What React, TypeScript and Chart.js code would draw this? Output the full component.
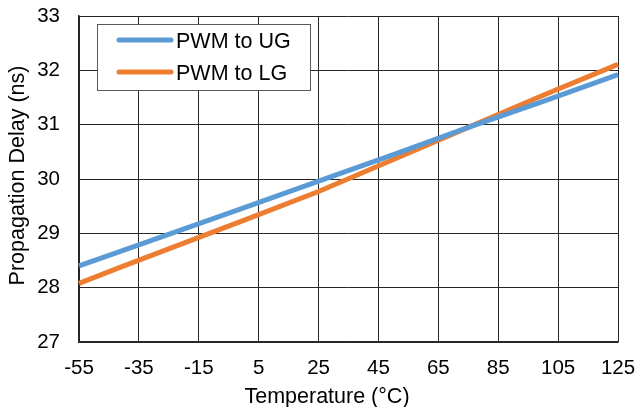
import React, { useEffect, useRef } from "react";
import { Chart, registerables } from "chart.js";

Chart.register(...registerables);

const temperatures = [-55, -40, 0, 25, 50, 75, 100, 125];
const pwmToUG = [28.4, 28.69, 29.47, 29.96, 30.45, 30.95, 31.43, 31.92];
const pwmToLG = [28.08, 28.4, 29.24, 29.77, 30.36, 30.95, 31.54, 32.11];
const xTickValues = [-55, -35, -15, 5, 25, 45, 65, 85, 105, 125];
const seriesNames = ["PWM to UG", "PWM to LG"];
const seriesColors = ["#5B9BD5", "#ED7D31"];
const xTitle = "Temperature (°C)";
const yTitle = "Propagation Delay (ns)";

const FONT = "'Liberation Sans', Arial, sans-serif";
const TICK_FS = 20.5;
const TEXT_FS = 21.5;
const GRID = "#262626";

const insideLegend = {
  id: "insideLegend",
  afterDatasetsDraw(chart: any) {
    const ctx = chart.ctx;
    const x0 = 97.5, y0 = 24.5, w = 213, h = 66;
    ctx.save();
    ctx.fillStyle = "#ffffff";
    ctx.fillRect(x0, y0, w, h);
    ctx.strokeStyle = "#595959";
    ctx.lineWidth = 1;
    ctx.strokeRect(x0, y0, w, h);
    chart.data.datasets.forEach((ds: any, i: number) => {
      const cy = 40 + i * 32;
      ctx.strokeStyle = ds.borderColor;
      ctx.lineWidth = 5;
      ctx.lineCap = "round";
      ctx.beginPath();
      ctx.moveTo(119, cy);
      ctx.lineTo(171, cy);
      ctx.stroke();
      ctx.fillStyle = "#000";
      ctx.font = `${TEXT_FS}px ${FONT}`;
      ctx.textBaseline = "alphabetic";
      ctx.textAlign = "left";
      ctx.fillText(ds.label, 176, cy + 7.5);
    });
    ctx.restore();
  },
  afterDraw(chart: any) {
    const ctx = chart.ctx;
    ctx.save();
    ctx.fillStyle = "#000";
    ctx.font = `${TEXT_FS}px ${FONT}`;
    ctx.textAlign = "center";
    ctx.textBaseline = "alphabetic";
    ctx.fillText(xTitle, 327, 403);
    ctx.translate(24, 175.5);
    ctx.rotate(-Math.PI / 2);
    ctx.fillText(yTitle, 0, 0);
    ctx.restore();
  },
};

export default function App() {
  const ref = useRef<HTMLCanvasElement>(null);
  useEffect(() => {
    if (!ref.current) return;
    const chart = new Chart(ref.current, {
      type: "line",
      data: {
        datasets: [pwmToUG, pwmToLG].map((vals, i) => ({
          label: seriesNames[i],
          data: temperatures.map((t, j) => ({ x: t, y: vals[j] })),
          borderColor: seriesColors[i],
          backgroundColor: seriesColors[i],
          borderWidth: 5,
          pointRadius: 0,
          tension: 0,
          borderCapStyle: "butt",
          clip: false,
        })),
      },
      options: {
        animation: false,
        responsive: false,
        maintainAspectRatio: false,
        layout: { padding: { top: 16, right: 19, left: 0, bottom: 0 } },
        plugins: { legend: { display: false }, tooltip: { enabled: false } },
        scales: {
          x: {
            type: "linear",
            min: -55,
            max: 125,
            afterBuildTicks: (s: any) => {
              s.ticks = xTickValues.map((v) => ({ value: v }));
            },
            afterFit: (s: any) => {
              s.height = 65;
              s.paddingLeft = 0;
              s.paddingRight = 0;
            },
            grid: { color: GRID, lineWidth: 1, drawTicks: false },
            border: { color: GRID, width: 1.5 },
            ticks: {
              color: "#000",
              font: { family: FONT, size: TICK_FS },
              padding: 14,
              maxRotation: 0,
              autoSkip: false,
            },
            title: { display: false },
          },
          y: {
            type: "linear",
            min: 27,
            max: 33,
            afterFit: (s: any) => {
              s.width = 79;
              s.paddingTop = 0;
              s.paddingBottom = 0;
            },
            grid: { color: GRID, lineWidth: 1, drawTicks: false },
            border: { color: GRID, width: 1.5 },
            ticks: {
              stepSize: 1,
              color: "#000",
              font: { family: FONT, size: TICK_FS },
              padding: 19,
            },
            title: { display: false },
          },
        },
      },
      plugins: [insideLegend],
    } as any);
    return () => chart.destroy();
  }, []);
  return (
    <div style={{ position: "fixed", left: 0, top: 0, width: 637, height: 407, background: "#fff" }}>
      <canvas ref={ref} width={637} height={407} style={{ width: 637, height: 407 }} />
    </div>
  );
}
